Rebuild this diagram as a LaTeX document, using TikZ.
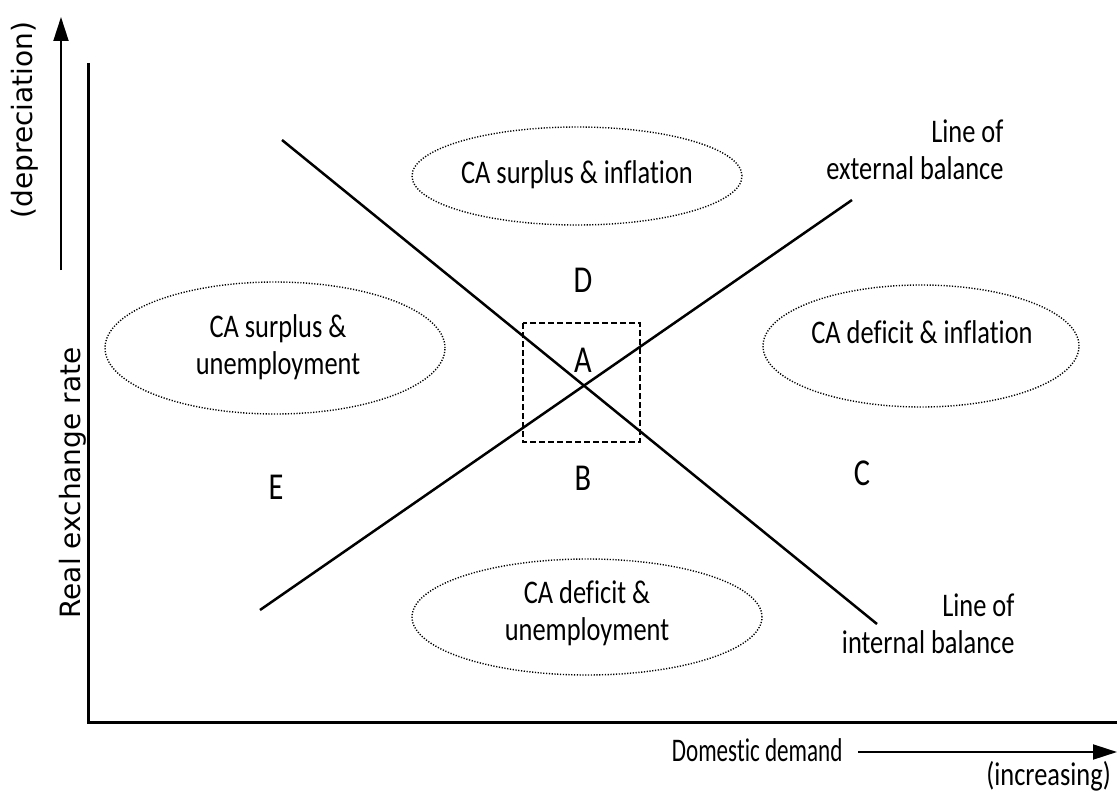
\documentclass[tikz,border=0pt]{standalone}
\usepackage{fontspec}
\setmainfont{Carlito}[FakeStretch=0.8, Ligatures=NoCommon]
\newfontfamily\narrowfont{Carlito}[FakeStretch=0.7, Ligatures=NoCommon]
\newfontfamily\axisfont{DejaVu Sans}
\usetikzlibrary{arrows.meta,shapes.geometric}
\tikzset{
	region/.style={draw, ellipse, line width=1.4pt, dash pattern=on 1.2pt off 1.6pt, inner sep=0pt},
	regtext/.style={align=center, font=\fontsize{33}{37}\selectfont},
	point/.style={font=\fontsize{38}{40}\selectfont},
	balance/.style={line width=2.5pt},
	axislabel/.style={font=\axisfont\fontsize{28}{30}\selectfont, rotate=90},
	dirarrow/.style={line width=2pt, -{Triangle[length=24pt,width=15pt]}}
}

\begin{document}
\begin{tikzpicture}[x=1pt,y=-1pt]
			%%%%% START %%%%%
			\useasboundingbox (0,0) rectangle (1117,797);
			\fill[white] (0,0) rectangle (1117,797);
			
			\draw[line width=3pt] (88,63) -- (88,722) -- (1117,722);
			
			\draw[dirarrow] (61,270) -- (61,17);
			\node[axislabel, anchor=east] (lab-dep) at (25,18) {(depreciation)};
			\node[axislabel, anchor=west] (lab-rer) at (73,622) {Real exchange rate};
			
			\draw[dirarrow] (858,752) -- (1117,752);
			\node[regtext, font=\narrowfont\fontsize{33}{37}\selectfont, anchor=east] (lab-dd) at (846,750) {Domestic demand};
			\node[regtext, anchor=east, inner sep=1pt] (lab-inc) at (1112,776) {(increasing)};
			
			\node[region, minimum width=330pt, minimum height=98pt] (ell-sinf) at (577,176) {};
			\node[region, minimum width=340pt, minimum height=132pt] (ell-sun) at (275,348) {};
			\node[region, minimum width=316pt, minimum height=122pt] (ell-dinf) at (921,346) {};
			\node[region, minimum width=350pt, minimum height=116pt] (ell-dun) at (587,617) {};
			
			\node[regtext] (txt-sinf) at (577,175) {CA surplus \& inflation};
			\node[regtext] (txt-sun) at (278,347) {CA surplus \&\\unemployment};
			\node[regtext] (txt-dinf) at (922,332) {CA deficit \& inflation};
			\node[regtext] (txt-dun) at (587,613) {CA deficit \&\\unemployment};
			
			\draw[balance] (282,140) -- (877,624);
			\draw[balance] (260,610) -- (852,200);
			
			\draw[line width=2pt, dash pattern=on 6pt off 3pt] (523,323) rectangle (640,442);
			
			\node[point] (pt-d) at (583,280) {D};
			\node[point] (pt-a) at (583,360) {A};
			\node[point] (pt-b) at (583,478) {B};
			\node[point] (pt-c) at (862,473) {C};
			\node[point] (pt-e) at (276,487) {E};
			
			\node[regtext, align=right, anchor=east] (lab-ext) at (1007,150) {Line of\\external balance};
			\node[regtext, align=right, anchor=east] (lab-int) at (1018,624) {Line of\\internal balance};
			%%%%% END %%%%%
\end{tikzpicture}
\end{document}
